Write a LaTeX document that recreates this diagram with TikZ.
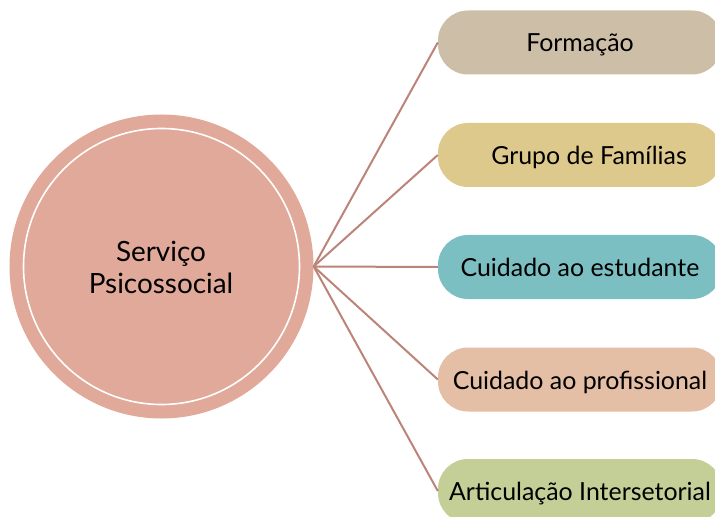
\documentclass[tikz,border=0pt]{standalone}
\usepackage{fontspec}
\setmainfont{Lato}
\usetikzlibrary{positioning}

\definecolor{hubcol}{HTML}{E1A999}
\definecolor{spokecol}{HTML}{BC8478}
\definecolor{formcol}{HTML}{CDBEA7}
\definecolor{grupocol}{HTML}{DEC98C}
\definecolor{estudcol}{HTML}{7BBFC3}
\definecolor{profcol}{HTML}{E4BEA5}
\definecolor{articcol}{HTML}{C4CE97}

\begin{document}
\begin{tikzpicture}[x=1bp,y=-1bp,
    spoke/.style={draw=spokecol,line width=2bp},
    topic/.style={rounded corners=30bp,minimum width=284bp,minimum height=64bp,
      inner sep=0pt,text height=19bp,text depth=0pt,font=\fontsize{25}{29}\selectfont}]
    \useasboundingbox (0,0) rectangle (715,517);
    \clip (0,0) rectangle (715,517);

    % central circle with the thin white ring
    \node[circle,fill=hubcol,minimum size=304bp,inner sep=0pt] (hub) at (161.5,266.5) {};
    \draw[white,line width=1.6bp] (hub.center) circle (138);
    \node[align=center,font=\fontsize{28}{32}\selectfont] (hubtext) at (161,267) {Serviço\\Psicossocial};

    % the five branches
    \node[topic,fill=formcol] (form) at (580,42.5) {Formação};
    \node[topic,fill=grupocol] (grupo) at (580,155) {\hspace{18bp}Grupo de Famílias};
    \node[topic,fill=estudcol] (estud) at (580,267) {Cuidado ao estudante};
    \node[topic,fill=profcol] (prof) at (580,379.5) {Cuidado ao profissional};
    \node[topic,fill=articcol] (artic) at (580,491) {Articulação Intersetorial};

    \foreach \t in {form,grupo,estud,prof,artic}
      \draw[spoke] (hub.east) -- (\t.west);
  \end{tikzpicture}
\end{document}
